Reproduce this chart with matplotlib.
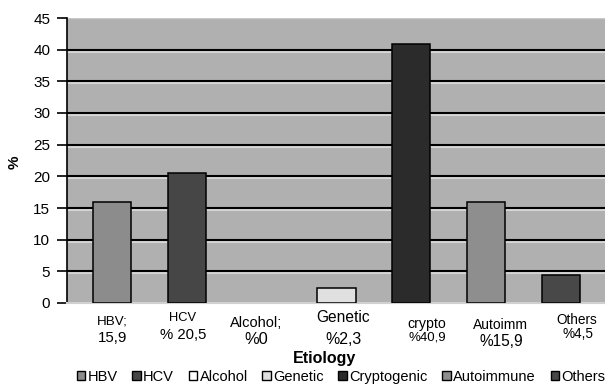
import matplotlib
matplotlib.use('Agg')

import matplotlib.pyplot as plt
import matplotlib.patheffects as pe
from matplotlib.patches import Patch

plt.rcParams['font.family'] = ['Liberation Sans', 'DejaVu Sans']

# data
series = ['HBV', 'HCV', 'Alcohol', 'Genetic', 'Cryptogenic', 'Autoimmune', 'Others']
values = [15.9, 20.5, 0.0, 2.3, 40.9, 15.9, 4.5]
colors = ['#8c8c8c', '#464646', '#ffffff', '#e0e0e0', '#2b2b2b', '#8e8e8e', '#484848']
label_top = ['HBV;', 'HCV', 'Alcohol;', 'Genetic', 'crypto', 'Autoimm', 'Others']
label_bottom = ['15,9', '% 20,5', '%0', '%2,3', '%40,9', '%15,9', '%4,5']
yticks = [0, 5, 10, 15, 20, 25, 30, 35, 40, 45]

W, H = 605, 386
fig = plt.figure(figsize=(W / 100, H / 100), dpi=100)
ax = fig.add_axes([67 / W, 1 - 303 / H, 538 / W, 285 / H])
ax.set_facecolor('#b0b0b0')

# gridlines with a light shadow underneath
for y in yticks[1:-1]:
    ax.axhline(y, color='black', lw=1.5, zorder=1,
               path_effects=[pe.SimpleLineShadow(offset=(0, -1.5), shadow_color='#d6d6d6', alpha=1),
                             pe.Normal()])

for i, (v, c) in enumerate(zip(values, colors)):
    if v > 0:
        ax.bar(i, v, width=0.51, color=c, edgecolor='black', linewidth=1.1, zorder=3)

ax.set_xlim(-0.601, 6.588)
ax.set_ylim(0, 45)
ax.set_yticks(yticks)
ax.set_xticks([])
ax.tick_params(axis='y', length=7, width=1.2, color='black', labelsize=11, pad=5)

for s in ['top', 'right']:
    ax.spines[s].set_visible(False)
ax.spines['left'].set_color('black')
ax.spines['left'].set_linewidth(1.2)
ax.spines['bottom'].set_color('#d0d0d0')
ax.spines['bottom'].set_linewidth(1.5)
ax.axhline(45, color='#c8c8c8', lw=1.0, zorder=1)

fig.text(15 / W, 1 - 162 / H, '%', rotation=90, fontsize=11, fontweight='bold',
         ha='center', va='center')

# category labels below the axis (pixel x, pixel y, font size)
top_pos = [(112, 322, 9.6), (183, 318, 9.3), (256, 323, 10.5), (343, 318, 11.2),
           (427, 324, 10.2), (500, 325, 10), (577, 320, 9.8)]
bot_pos = [(113, 338, 10.8), (183, 335, 10.7), (256, 340, 11.8), (344, 340, 11.4),
           (427, 338, 9.5), (501, 342, 11.2), (578, 334, 9.8)]
for t, (x, y, fs) in zip(label_top, top_pos):
    fig.text(x / W, 1 - y / H, t, fontsize=fs, ha='center', va='center')
for t, (x, y, fs) in zip(label_bottom, bot_pos):
    fig.text(x / W, 1 - y / H, t, fontsize=fs, ha='center', va='center')

fig.text(324 / W, 1 - 358 / H, 'Etiology', fontsize=11.5, fontweight='bold',
         ha='center', va='center')

handles = [Patch(facecolor=c, edgecolor='black', linewidth=1.0) for c in colors]
fig.legend(handles, series, loc='center', bbox_to_anchor=(341 / W, 1 - 377 / H),
           ncol=7, frameon=False, fontsize=10.5, handlelength=0.6, handleheight=0.6,
           handletextpad=0.15, columnspacing=1.0, borderpad=0, borderaxespad=0)

fig.savefig('out.png', dpi=100)
